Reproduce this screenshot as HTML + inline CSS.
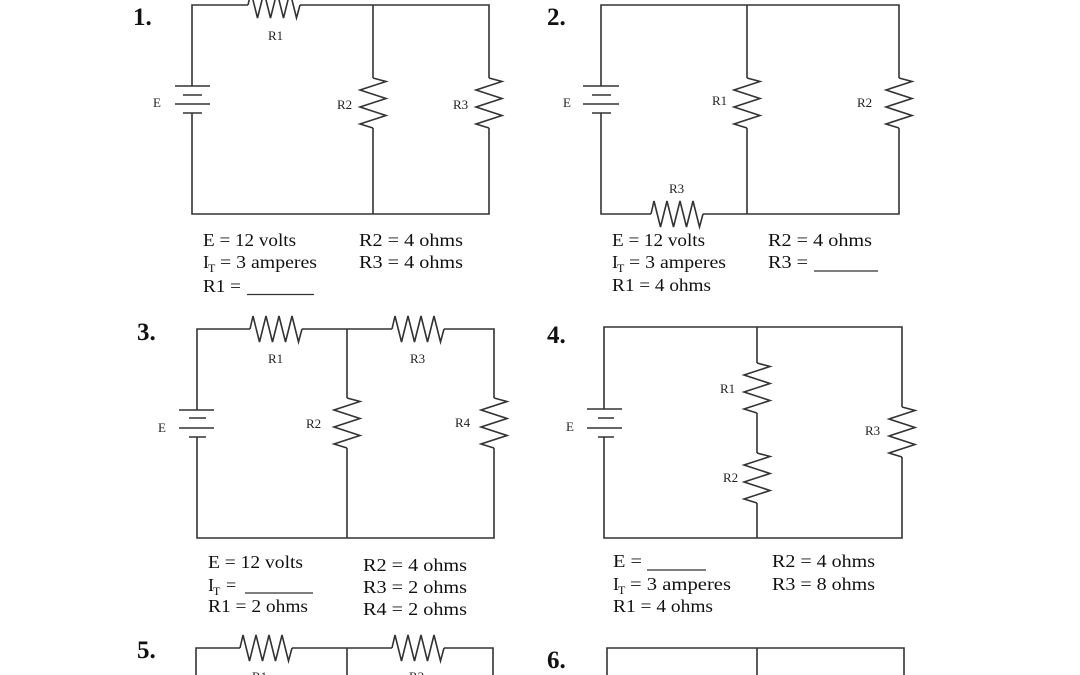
<!DOCTYPE html>
<html>
<head>
<meta charset="utf-8">
<style>
  html, body { margin: 0; padding: 0; background: #ffffff; }
  body { width: 1080px; height: 675px; overflow: hidden; }
  svg { display: block; }
  .w { fill: none; stroke: #333; stroke-width: 1.6; stroke-linejoin: miter; }
  .t { font-family: "Liberation Serif", serif; font-size: 18px; fill: #111; }
  .s { font-family: "Liberation Serif", serif; font-size: 12px; fill: #111; }
  .l { font-family: "Liberation Serif", serif; font-size: 13px; fill: #222; }
  .n { font-family: "Liberation Serif", serif; font-size: 25px; font-weight: bold; fill: #111; }
</style>
</head>
<body>
<svg width="1080" height="675" viewBox="0 0 1080 675" xmlns="http://www.w3.org/2000/svg">
  <defs>
    <path id="rh" class="w" d="M0,0 L3,-13 L9.5,13 L16,-13 L22.5,13 L29,-13 L35.5,13 L42,-13 L48.5,13 L52,0"/>
    <path id="rv" class="w" d="M0,0 L13,3.5 L-13,12 L13,20.5 L-13,29 L13,37.5 L-13,46 L0,50"/>
  </defs>
  <rect width="1080" height="675" fill="#fff"/>

  <!-- ========== Circuit 1 ========== -->
  <text class="n" x="133" y="25">1.</text>
  <path class="w" d="M248,5 H192 V86 M192,113 V214 H489 V128 M489,78 V5 H300 M373,5 V78 M373,128 V214"/>
  <use href="#rh" transform="translate(248,5)"/>
  <use href="#rv" transform="translate(373,78)"/>
  <use href="#rv" transform="translate(489,78)"/>
  <path class="w" d="M175,86 H210 M183,95 H202 M175,104 H210 M183,113 H202"/>
  <text class="l" x="153" y="107">E</text>
  <text class="l" x="268" y="40">R1</text>
  <text class="l" x="337" y="109">R2</text>
  <text class="l" x="453" y="109">R3</text>

  <text class="t" x="203" y="246" textLength="93" lengthAdjust="spacingAndGlyphs">E = 12 volts</text>
  <text class="t" x="203" y="268">I</text>
  <text class="s" x="208" y="272">T</text>
  <text class="t" x="220" y="268" textLength="97" lengthAdjust="spacingAndGlyphs">= 3 amperes</text>
  <text class="t" x="203" y="292" textLength="38" lengthAdjust="spacingAndGlyphs">R1 =</text>
  <line class="w" x1="247" y1="294.5" x2="314" y2="294.5" style="stroke-width:1.2"/>
  <text class="t" x="359" y="246" textLength="104" lengthAdjust="spacingAndGlyphs">R2 = 4 ohms</text>
  <text class="t" x="359" y="268" textLength="104" lengthAdjust="spacingAndGlyphs">R3 = 4 ohms</text>

  <!-- ========== Circuit 2 ========== -->
  <text class="n" x="547" y="25">2.</text>
  <path class="w" d="M601,86 V5 H899 V78 M899,128 V214 H703 M651,214 H601 V113 M747,5 V78 M747,128 V214"/>
  <use href="#rh" transform="translate(651,214)"/>
  <use href="#rv" transform="translate(747,78)"/>
  <use href="#rv" transform="translate(899,78)"/>
  <path class="w" d="M583,86 H619 M592,95 H611 M583,104 H619 M592,113 H611"/>
  <text class="l" x="563" y="107">E</text>
  <text class="l" x="712" y="105">R1</text>
  <text class="l" x="857" y="107">R2</text>
  <text class="l" x="669" y="193">R3</text>

  <text class="t" x="612" y="246" textLength="93" lengthAdjust="spacingAndGlyphs">E = 12 volts</text>
  <text class="t" x="612" y="268">I</text>
  <text class="s" x="617" y="272">T</text>
  <text class="t" x="629" y="268" textLength="97" lengthAdjust="spacingAndGlyphs">= 3 amperes</text>
  <text class="t" x="612" y="291" textLength="99" lengthAdjust="spacingAndGlyphs">R1 = 4 ohms</text>
  <text class="t" x="768" y="246" textLength="104" lengthAdjust="spacingAndGlyphs">R2 = 4 ohms</text>
  <text class="t" x="768" y="268" textLength="40" lengthAdjust="spacingAndGlyphs">R3 =</text>
  <line class="w" x1="814" y1="271" x2="878" y2="271" style="stroke-width:1.2"/>

  <!-- ========== Circuit 3 ========== -->
  <text class="n" x="137" y="340">3.</text>
  <path class="w" d="M250,329 H197 V410 M197,437 V538 H494 V448 M494,398 V329 H444 M392,329 H302 M347,329 V398 M347,448 V538"/>
  <use href="#rh" transform="translate(250,329)"/>
  <use href="#rh" transform="translate(392,329)"/>
  <use href="#rv" transform="translate(347,398)"/>
  <use href="#rv" transform="translate(494,398)"/>
  <path class="w" d="M179,410 H214 M189,418 H206 M179,428 H214 M189,437 H206"/>
  <text class="l" x="158" y="432">E</text>
  <text class="l" x="268" y="363">R1</text>
  <text class="l" x="410" y="363">R3</text>
  <text class="l" x="306" y="428">R2</text>
  <text class="l" x="455" y="427">R4</text>

  <text class="t" x="208" y="568" textLength="95" lengthAdjust="spacingAndGlyphs">E = 12 volts</text>
  <text class="t" x="208" y="591">I</text>
  <text class="s" x="213" y="595">T</text>
  <text class="t" x="226" y="591">=</text>
  <line class="w" x1="245" y1="593" x2="313" y2="593" style="stroke-width:1.2"/>
  <text class="t" x="208" y="612" textLength="100" lengthAdjust="spacingAndGlyphs">R1 = 2 ohms</text>
  <text class="t" x="363" y="571" textLength="104" lengthAdjust="spacingAndGlyphs">R2 = 4 ohms</text>
  <text class="t" x="363" y="593" textLength="104" lengthAdjust="spacingAndGlyphs">R3 = 2 ohms</text>
  <text class="t" x="363" y="615" textLength="104" lengthAdjust="spacingAndGlyphs">R4 = 2 ohms</text>

  <!-- ========== Circuit 4 ========== -->
  <text class="n" x="547" y="343">4.</text>
  <path class="w" d="M604,409 V327 H902 V407 M902,457 V538 H604 V437 M757,327 V363 M757,413 V453 M757,503 V538"/>
  <use href="#rv" transform="translate(757,363)"/>
  <use href="#rv" transform="translate(757,453)"/>
  <use href="#rv" transform="translate(902,407)"/>
  <path class="w" d="M587,409 H622 M598,418 H614 M587,428 H622 M598,437 H614"/>
  <text class="l" x="566" y="431">E</text>
  <text class="l" x="720" y="393">R1</text>
  <text class="l" x="723" y="482">R2</text>
  <text class="l" x="865" y="435">R3</text>

  <text class="t" x="613" y="567" textLength="29" lengthAdjust="spacingAndGlyphs">E =</text>
  <line class="w" x1="647" y1="570" x2="706" y2="570" style="stroke-width:1.2"/>
  <text class="t" x="613" y="590">I</text>
  <text class="s" x="618" y="594">T</text>
  <text class="t" x="630" y="590" textLength="101" lengthAdjust="spacingAndGlyphs">= 3 amperes</text>
  <text class="t" x="613" y="612" textLength="100" lengthAdjust="spacingAndGlyphs">R1 = 4 ohms</text>
  <text class="t" x="772" y="567" textLength="103" lengthAdjust="spacingAndGlyphs">R2 = 4 ohms</text>
  <text class="t" x="772" y="590" textLength="103" lengthAdjust="spacingAndGlyphs">R3 = 8 ohms</text>

  <!-- ========== Circuit 5 ========== -->
  <text class="n" x="137" y="658">5.</text>
  <path class="w" d="M196,680 V648 H240 M292,648 H392 M444,648 H493 V680 M347,648 V680"/>
  <use href="#rh" transform="translate(240,648)"/>
  <use href="#rh" transform="translate(392,648)"/>
  <text class="l" x="252" y="681">R1</text>
  <text class="l" x="409" y="681">R3</text>

  <!-- ========== Circuit 6 ========== -->
  <text class="n" x="547" y="668">6.</text>
  <path class="w" d="M607,680 V648 H904 V680 M757,648 V680"/>
</svg>
</body>
</html>
